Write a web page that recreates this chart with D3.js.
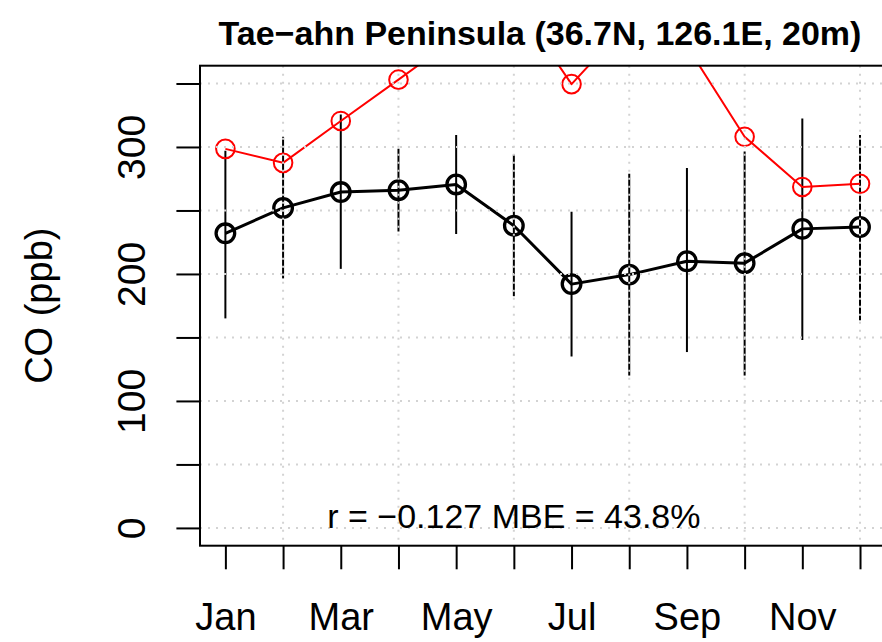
<!DOCTYPE html>
<html>
<head>
<meta charset="utf-8">
<script src="https://cdn.jsdelivr.net/npm/d3@7"></script>
<style>
  body { margin: 0; background: #fff; }
  svg text { font-family: "Liberation Sans", Arial, Helvetica, sans-serif; }
</style>
</head>
<body>
<div id="chart"></div>
<script>
// monthly CO at Tae-ahn Peninsula, observations (black) vs model (red)
let months = ['Jan','Feb','Mar','Apr','May','Jun','Jul','Aug','Sep','Oct','Nov','Dec'];
let obsMean = [232, 252, 264.5, 266, 270.5, 238, 192, 199.5, 210, 208.5, 235.5, 237];
let obsLow  = [165, 196.5, 204, 233.5, 231.5, 182.5, 135, 120, 138.5, 120, 148, 163.5];
let obsHigh = [297, 308, 325.5, 298.5, 309.5, 294, 249, 279, 283.5, 296.5, 322.5, 309.5];
let modelMean = [298.5, 287.5, 320.5, 353, 386, 416, 349.5, 398.5, 379.5, 308, 268.5, 271];
let yTicks = [0, 50, 100, 150, 200, 250, 300, 350];
let yLabels = [0, 100, 200, 300];
let titleText = 'Tae\u2212ahn Peninsula (36.7N, 126.1E, 20m)';
let statText = 'r = \u22120.127 MBE = 43.8%';

let W = 882, H = 642;
let plot = {left: 200, right: 885.4, top: 65.7, bottom: 545.7};

let svg = d3.select('#chart').append('svg')
    .attr('width', W)
    .attr('height', H);

// R style: 4% padding on both scales
let x = d3.scaleLinear().domain([0.56, 12.44]).range([plot.left, plot.right]);
let y = d3.scaleLinear().domain([-14, 364]).range([plot.bottom, plot.top]);

svg.append('clipPath').attr('id', 'plotClip')
    .append('rect')
    .attr('x', plot.left).attr('y', plot.top)
    .attr('width', plot.right - plot.left).attr('height', plot.bottom - plot.top);

let g = svg.append('g').attr('clip-path', 'url(#plotClip)');
let idx = d3.range(months.length);

// error bars
g.selectAll('line.err')
    .data(idx)
    .enter().append('line')
    .attr('class', 'err')
    .attr('x1', i => x(i + 1)).attr('x2', i => x(i + 1))
    .attr('y1', i => y(obsLow[i])).attr('y2', i => y(obsHigh[i]))
    .attr('stroke', '#000')
    .attr('stroke-width', 2);

function drawSeries(vals, col, lw, cw) {
    let line = d3.line()
        .x((d, i) => x(i + 1))
        .y(d => y(d));
    g.append('path')
        .datum(vals)
        .attr('d', line)
        .attr('fill', 'none')
        .attr('stroke', col)
        .attr('stroke-width', lw)
        .attr('stroke-linejoin', 'round');
    g.selectAll(null)
        .data(vals)
        .enter().append('circle')
        .attr('cx', (d, i) => x(i + 1))
        .attr('cy', d => y(d))
        .attr('r', 9.3)
        .attr('fill', 'none')
        .attr('stroke', col)
        .attr('stroke-width', cw);
}
drawSeries(obsMean, '#000', 3, 3.3);
drawSeries(modelMean, '#ff0000', 2, 2);

// grid on top (dotted lightgray), even months and every 50 ppb
let grid = svg.append('g').attr('clip-path', 'url(#plotClip)');
grid.selectAll('line.gx')
    .data([2, 4, 6, 8, 10, 12])
    .enter().append('line')
    .attr('x1', d => x(d)).attr('x2', d => x(d))
    .attr('y1', plot.top).attr('y2', plot.bottom)
    .attr('stroke', '#d3d3d3').attr('stroke-width', 2)
    .attr('stroke-dasharray', '2,6');
grid.selectAll('line.gy')
    .data(yTicks)
    .enter().append('line')
    .attr('x1', plot.left).attr('x2', plot.right)
    .attr('y1', d => y(d)).attr('y2', d => y(d))
    .attr('stroke', '#d3d3d3').attr('stroke-width', 2)
    .attr('stroke-dasharray', '2,6');

// box
svg.append('rect')
    .attr('x', plot.left).attr('y', plot.top)
    .attr('width', plot.right - plot.left).attr('height', plot.bottom - plot.top)
    .attr('fill', 'none').attr('stroke', '#000').attr('stroke-width', 2);

// x axis
let xAxis = svg.append('g')
    .attr('transform', `translate(0,${plot.bottom})`)
    .call(d3.axisBottom(x)
        .tickValues(d3.range(1, 13))
        .tickSize(23.6)
        .tickSizeOuter(0)
        .tickFormat(d => (d % 2 === 1) ? months[d - 1] : ''));
xAxis.select('.domain').remove();
xAxis.selectAll('.tick line').attr('stroke', '#000').attr('stroke-width', 2);
xAxis.selectAll('.tick text')
    .attr('y', 84.3).attr('dy', null)
    .attr('fill', '#000')
    .style('font-size', '38px');

// y axis
let yAxis = svg.append('g')
    .attr('transform', `translate(${plot.left},0)`)
    .call(d3.axisLeft(y)
        .tickValues(yTicks)
        .tickSize(23.6)
        .tickSizeOuter(0)
        .tickFormat(d => yLabels.includes(d) ? d : ''));
yAxis.select('.domain').remove();
yAxis.selectAll('.tick line').attr('stroke', '#000').attr('stroke-width', 2);
yAxis.selectAll('.tick text')
    .attr('x', null).attr('dy', null)
    .attr('text-anchor', 'middle')
    .attr('transform', 'translate(-55,0) rotate(-90)')
    .attr('fill', '#000')
    .style('font-size', '39px');

// axis title
svg.append('text')
    .attr('transform', `translate(52,${(plot.top + plot.bottom) / 2}) rotate(-90)`)
    .attr('text-anchor', 'middle')
    .style('font-size', '38px')
    .text('CO (ppb)');

// main title
svg.append('text')
    .attr('x', 540).attr('y', 45)
    .attr('text-anchor', 'middle')
    .style('font-size', '34px')
    .style('font-weight', 'bold')
    .text(titleText);

// stats
svg.append('text')
    .attr('x', x(6)).attr('y', y(0))
    .attr('text-anchor', 'middle')
    .style('font-size', '34px')
    .text(statText);
</script>
</body>
</html>
